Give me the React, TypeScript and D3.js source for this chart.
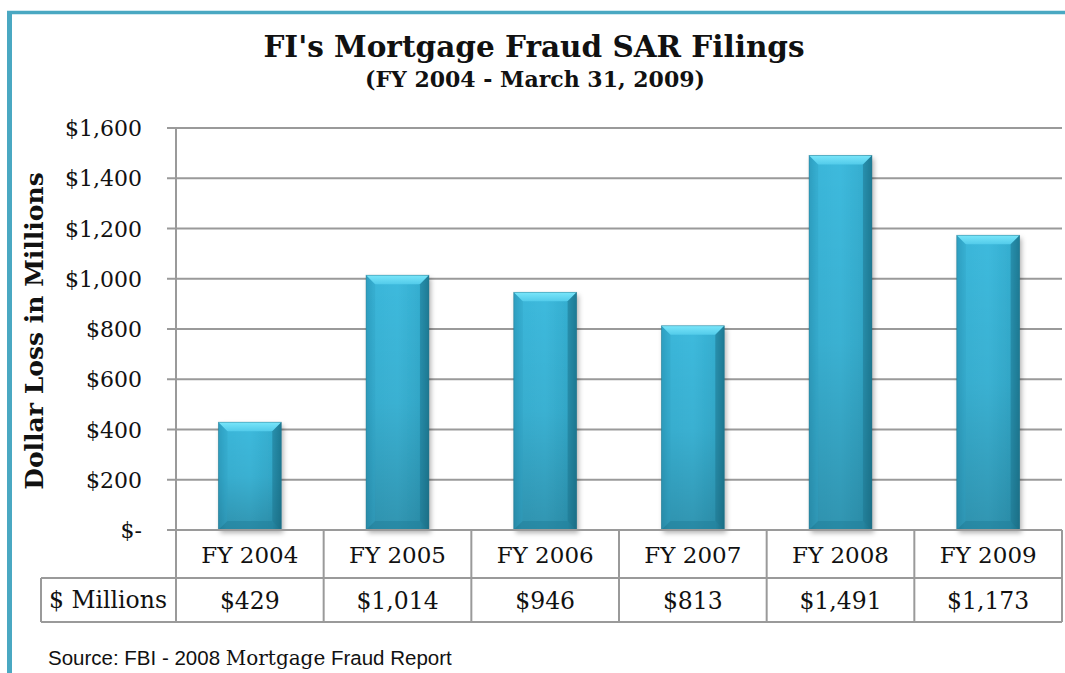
import React from "react";
import * as d3 from "d3";

const categories = ["FY 2004", "FY 2005", "FY 2006", "FY 2007", "FY 2008", "FY 2009"];
const values = [429, 1014, 946, 813, 1491, 1173];
const valueLabels = ["$429", "$1,014", "$946", "$813", "$1,491", "$1,173"];
const yTicks = [0, 200, 400, 600, 800, 1000, 1200, 1400, 1600];
const rowLabel = "$ Millions";

const W = 1065;
const H = 673;
const left = 176;
const right = 1062;
const top = 128;
const bottom = 530;
const serif = "'DejaVu Serif', serif";
const sans = "'Liberation Sans', Arial, sans-serif";

export default function App() {
  const x = d3.scaleBand<string>().domain(categories).range([left, right]).paddingInner(0.574).paddingOuter(0.287);
  const xCol = d3.scaleBand<string>().domain(categories).range([left, right]).padding(0);
  const y = d3.scaleLinear().domain([0, 1600]).range([bottom, top]);
  const fmt = (v: number) => (v === 0 ? "$-" : "$" + d3.format(",")(v));
  const grid = "#9a9a9a";
  const row1 = bottom + 48;
  const row2 = row1 + 44;
  const b = 9;

  return (
    <svg width={W} height={H} style={{ position: "absolute", left: 0, top: 0, background: "#fff" }}>
      <defs>
        <linearGradient id="barg" x1="0" x2="1" y1="0" y2="0">
          <stop offset="0" stopColor="#2e9fc0" />
          <stop offset="0.12" stopColor="#3ab6d9" />
          <stop offset="0.5" stopColor="#3dbadd" />
          <stop offset="0.86" stopColor="#35aed0" />
          <stop offset="1" stopColor="#1f7f99" />
        </linearGradient>
        <linearGradient id="barv" x1="0" x2="0" y1="0" y2="1">
          <stop offset="0" stopColor="#000" stopOpacity="0" />
          <stop offset="0.5" stopColor="#000" stopOpacity="0.05" />
          <stop offset="1" stopColor="#000" stopOpacity="0.2" />
        </linearGradient>
        <linearGradient id="bevel" x1="0" x2="0" y1="0" y2="1">
          <stop offset="0" stopColor="#7ae6fa" />
          <stop offset="1" stopColor="#52cbea" />
        </linearGradient>
        <filter id="sh" x="-20%" y="-5%" width="140%" height="115%">
          <feDropShadow dx="2" dy="3" stdDeviation="2.5" floodColor="#000" floodOpacity="0.3" />
        </filter>
      </defs>
      <rect x={0} y={0} width={W} height={H} fill="#fff" />
      {/* border */}
      <line x1={7} x2={W} y1={12.5} y2={12.5} stroke="#4aa8c2" strokeWidth={3.5} />
      <line x1={9.5} x2={9.5} y1={11} y2={H} stroke="#4aa8c2" strokeWidth={5} />

      {/* titles */}
      <text x={534} y={57} textAnchor="middle" fontFamily={serif} fontWeight="bold" fontSize={29.5} fill="#111">
        FI's Mortgage Fraud SAR Filings
      </text>
      <text x={535} y={87} textAnchor="middle" fontFamily={serif} fontWeight="bold" fontSize={22} fill="#111">
        (FY 2004 - March 31, 2009)
      </text>

      {/* gridlines */}
      {yTicks.map((t) => (
        <g key={t}>
          <line x1={167} x2={right} y1={y(t)} y2={y(t)} stroke={grid} strokeWidth={2} />
          <text x={142} y={y(t) + 8} textAnchor="end" fontFamily={serif} fontSize={22} fill="#111">
            {fmt(t)}
          </text>
        </g>
      ))}
      <line x1={left} x2={left} y1={top} y2={row2} stroke={grid} strokeWidth={2} />

      {/* y axis title */}
      <text
        transform={`translate(43, 331) rotate(-90)`}
        textAnchor="middle"
        fontFamily={serif}
        fontWeight="bold"
        fontSize={25}
        fill="#111"
      >
        Dollar Loss in Millions
      </text>

      {/* bars */}
      {categories.map((c, i) => {
        const bx = x(c)!;
        const bw = x.bandwidth();
        const by = y(values[i]);
        const bh = bottom - by;
        return (
          <g key={c}>
            <rect x={bx} y={by} width={bw} height={bh} fill="url(#barg)" filter="url(#sh)" />
            <rect x={bx} y={by} width={bw} height={bh} fill="url(#barv)" />
            <polygon points={`${bx},${by} ${bx + bw},${by} ${bx + bw - b},${by + b} ${bx + b},${by + b}`} fill="url(#bevel)" />
            <polygon points={`${bx},${by} ${bx + b},${by + b} ${bx + b},${bottom - b} ${bx},${bottom}`} fill="#2f9fbf" opacity={0.35} />
            <polygon points={`${bx + bw},${by} ${bx + bw - b},${by + b} ${bx + bw - b},${bottom - b} ${bx + bw},${bottom}`} fill="#1d7690" opacity={0.55} />
            <polygon points={`${bx},${bottom} ${bx + b},${bottom - b} ${bx + bw - b},${bottom - b} ${bx + bw},${bottom}`} fill="#1e7c96" opacity={0.45} />
            <rect x={bx} y={by} width={bw} height={bh} fill="none" stroke="#1d6f86" strokeWidth={0.8} opacity={0.5} />
          </g>
        );
      })}

      {/* table */}
      <line x1={167} x2={right} y1={bottom} y2={bottom} stroke={grid} strokeWidth={2} />
      <line x1={41} x2={right} y1={row1} y2={row1} stroke={grid} strokeWidth={2} />
      <line x1={41} x2={right} y1={row2} y2={row2} stroke={grid} strokeWidth={2} />
      <line x1={41} x2={41} y1={row1} y2={row2} stroke={grid} strokeWidth={2} />
      {categories.map((c) => (
        <line key={c} x1={xCol(c)! + xCol.bandwidth()} x2={xCol(c)! + xCol.bandwidth()} y1={bottom} y2={row2} stroke={grid} strokeWidth={2} />
      ))}
      {categories.map((c, i) => (
        <g key={c}>
          <text x={xCol(c)! + xCol.bandwidth() / 2} y={bottom + 33} textAnchor="middle" fontFamily={serif} fontSize={23} fill="#111">
            {c}
          </text>
          <text x={xCol(c)! + xCol.bandwidth() / 2} y={row1 + 31} textAnchor="middle" fontFamily={serif} fontSize={23.5} fill="#111">
            {valueLabels[i]}
          </text>
        </g>
      ))}
      <text x={108} y={row1 + 30} textAnchor="middle" fontFamily={serif} fontSize={23.5} fill="#111">
        {rowLabel}
      </text>

      {/* source */}
      <text x={48} y={665} fontFamily={sans} fontSize={20.5} fill="#111">
        Source: FBI - 2008 <tspan fontFamily={serif} fontSize={20}>Mortgage</tspan> Fraud Report
      </text>
    </svg>
  );
}
